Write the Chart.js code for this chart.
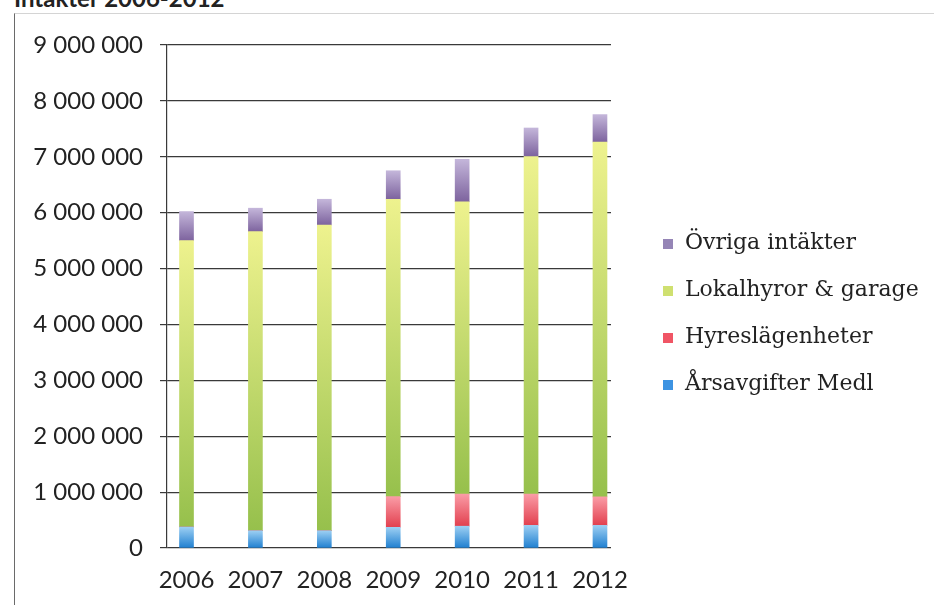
<!DOCTYPE html>
<html>
<head>
<meta charset="utf-8">
<script src="https://cdn.jsdelivr.net/npm/chart.js@4/dist/chart.umd.min.js"></script>
<style>
  html, body { margin: 0; padding: 0; background: #fff; }
  #wrap { position: relative; width: 934px; height: 605px; overflow: hidden; background: #fff; }
  #frame { position: absolute; left: 14px; top: 13px; right: -2px; bottom: -2px;
           border-top: 1px solid #d4d4d4; border-left: 1px solid #6a6a6a; }
  #title { position: absolute; left: 14px; top: -14px; font: bold 24px Lato, sans-serif;
           line-height: 1; color: #222; white-space: nowrap; }
  #chart { position: absolute; left: 0; top: 0; }
  #legend { position: absolute; left: 663px; top: 218px; margin: 0; padding: 0; list-style: none;
            font: 22px "DejaVu Serif", serif; color: #222; }
  #legend li { display: flex; align-items: center; height: 47px; white-space: nowrap; }
  #legend .box { width: 10px; height: 10px; margin: 4px 12px 0 0; flex: none; }
</style>
</head>
<body>
<div id="wrap">
  <div id="frame"></div>
  <div id="title">Intäkter 2006-2012</div>
  <canvas id="chart" width="934" height="605"></canvas>
  <ul id="legend"></ul>
</div>
<script>
// Income per year, stacked by source (SEK)
const years = [2006, 2007, 2008, 2009, 2010, 2011, 2012];
const arsavgifter = [376000, 310000, 310000, 370000, 390000, 405000, 405000];
const hyreslagenheter = [0, 0, 0, 550000, 575000, 560000, 510000];
const lokalhyror = [5124000, 5350000, 5470000, 5320000, 5230000, 6040000, 6350000];
const ovriga = [520000, 420000, 460000, 510000, 760000, 510000, 490000];
const yTickLabels = ['0', '1 000 000', '2 000 000', '3 000 000', '4 000 000',
                     '5 000 000', '6 000 000', '7 000 000', '8 000 000', '9 000 000'];

// Vertical gradient per segment: light at the top, saturated at the bottom
function segmentFill(light, dark, legendColor) {
  return (c) => {
    const chart = c.chart;
    const y = chart.scales && chart.scales.y;
    if (c.type !== 'data' || !y) return legendColor;
    let base = 0;
    for (let k = 0; k < c.datasetIndex; k++) base += chart.data.datasets[k].data[c.dataIndex].y;
    const top = base + chart.data.datasets[c.datasetIndex].data[c.dataIndex].y;
    const y0 = y.getPixelForValue(top), y1 = y.getPixelForValue(base);
    if (!isFinite(y0) || !isFinite(y1) || y1 - y0 < 0.5) return dark;
    const g = chart.ctx.createLinearGradient(0, y0, 0, y1);
    g.addColorStop(0, light);
    g.addColorStop(1, dark);
    return g;
  };
}

const toPoints = (arr) => arr.map((v, i) => ({ x: years[i], y: v }));

const chart = new Chart(document.getElementById('chart'), {
  type: 'bar',
  data: {
    datasets: [
      { label: 'Årsavgifter Medl', data: toPoints(arsavgifter),
        backgroundColor: segmentFill('#9ccff3', '#1f7fd0', '#3d93e2') },
      { label: 'Hyreslägenheter', data: toPoints(hyreslagenheter),
        backgroundColor: segmentFill('#fa9ca6', '#e2404f', '#f05565') },
      { label: 'Lokalhyror & garage', data: toPoints(lokalhyror),
        backgroundColor: segmentFill('#eef28e', '#96c04c', '#cfe070') },
      { label: 'Övriga intäkter', data: toPoints(ovriga),
        backgroundColor: segmentFill('#c4b6da', '#7d639e', '#9585b6') }
    ]
  },
  options: {
    responsive: false,
    animation: false,
    events: [],
    datasets: { bar: { barThickness: 14, borderWidth: 0 } },
    layout: { padding: { top: 45, bottom: 0, left: 0, right: 323 } },
    scales: {
      x: {
        type: 'linear',
        stacked: true,
        offset: false,
        min: 2005.717,
        max: 2012.16,
        afterFit: (s) => { s.height = 57; },
        grid: { display: false },
        border: { display: false },
        ticks: {
          stepSize: 1,
          includeBounds: false,
          autoSkip: false,
          maxRotation: 0,
          minRotation: 0,
          padding: 10,
          color: '#222',
          font: { family: 'Lato', size: 24 },
          callback: (v) => (years.includes(v) ? String(v) : '')
        }
      },
      y: {
        stacked: true,
        min: 0,
        max: 9000000,
        afterFit: (s) => { s.width = 167; },
        grid: { color: '#3a3a3a', lineWidth: 1.2, tickLength: 7 },
        border: { display: true, color: '#3a3a3a', width: 1.2 },
        ticks: {
          stepSize: 1000000,
          padding: 17,
          color: '#222',
          font: { family: 'Lato', size: 24 },
          callback: (v) => yTickLabels[Math.round(v / 1000000)]
        }
      }
    },
    plugins: {
      tooltip: { enabled: false },
      legend: { display: false }
    }
  }
});

// Legend built from the chart's own dataset items, top series first
const legendEl = document.getElementById('legend');
chart.data.datasets.slice().reverse().forEach((ds) => {
  const li = document.createElement('li');
  const box = document.createElement('span');
  box.className = 'box';
  box.style.background = ds.backgroundColor({ type: 'dataset', chart });
  li.appendChild(box);
  li.appendChild(document.createTextNode(ds.label));
  legendEl.appendChild(li);
});
</script>
</body>
</html>
